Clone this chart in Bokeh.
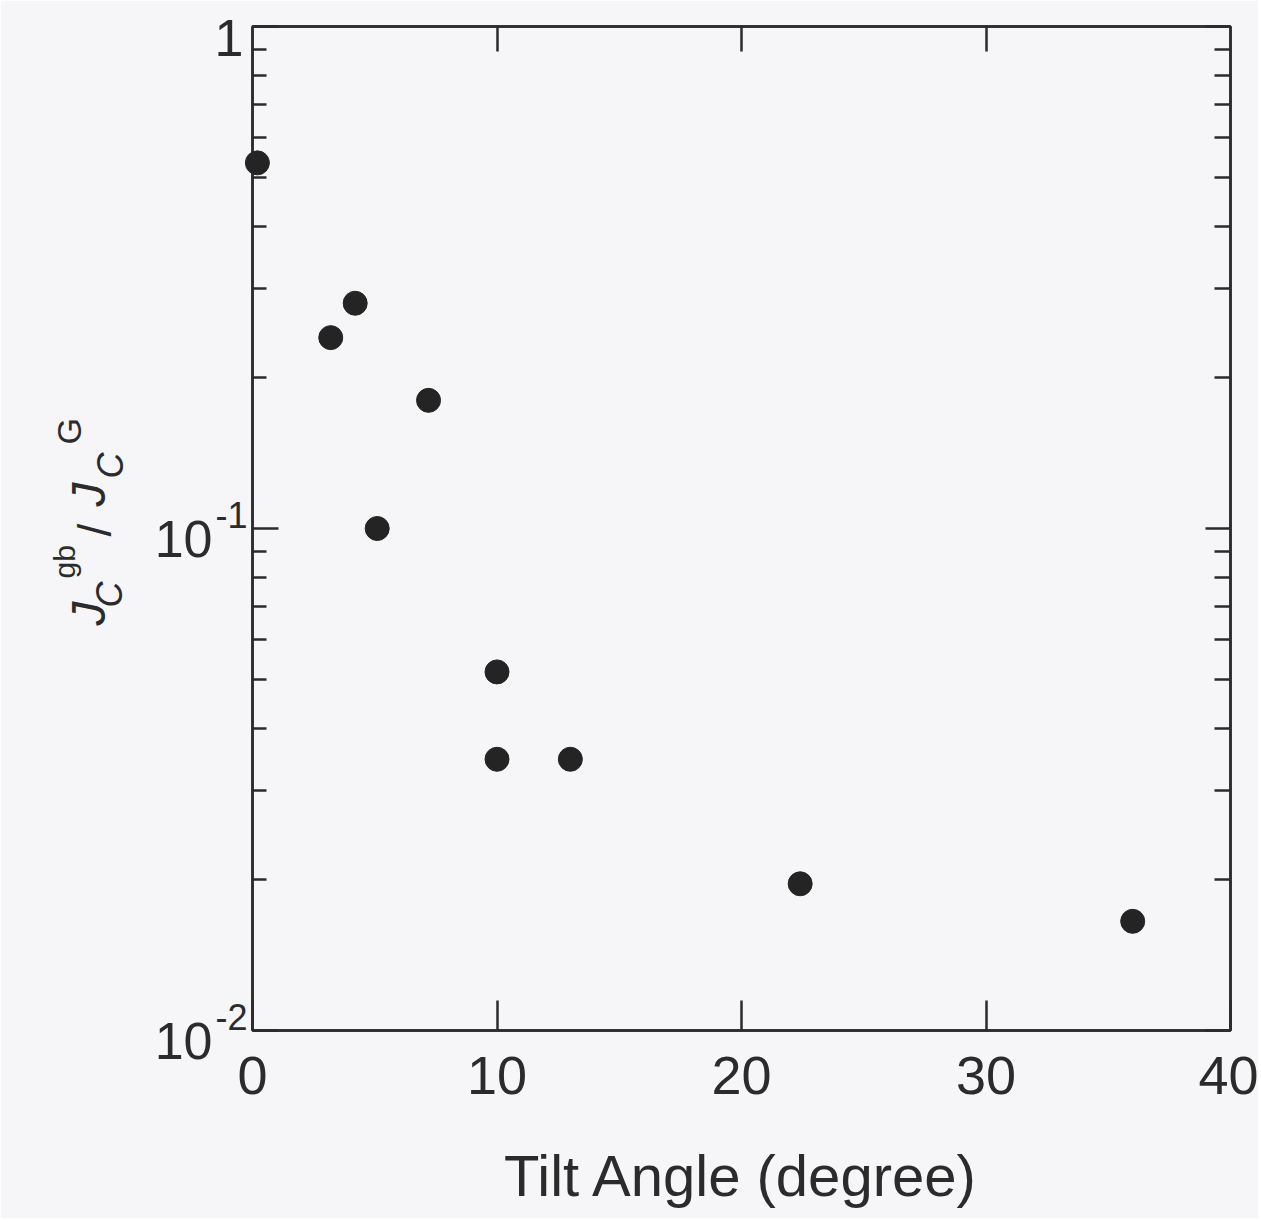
import math
from bokeh.plotting import figure
from bokeh.models import (LogAxis, LinearAxis, FixedTicker, Range1d,
                          LinearScale, CustomJSTickFormatter)
from bokeh.core.properties import value
from bokeh.embed import file_html
from bokeh.resources import INLINE

# ---- data ----
tilt_angle = [0.2, 3.2, 4.2, 5.1, 7.2, 10.0, 10.0, 13.0, 22.4, 36.0]
jc_ratio = [0.535, 0.240, 0.281, 0.100, 0.180, 0.0518, 0.0347, 0.0347, 0.0196, 0.0165]

x_ticks = [0, 10, 20, 30, 40]
y_tick_vals = [1, 0.1, 0.01]
y_tick_base = ["1", "10", "10"]
y_tick_exp = ["", "-1", "-2"]
y_minor = [k * d for d in (0.01, 0.1) for k in range(2, 10)]
x_title = "Tilt Angle (degree)"

FONT = "Liberation Sans"
INK = "#2b2b2b"
BG = "#f6f6f8"
LW = 2.5

# ---- geometry (page pixels) ----
LEFT, TOP, FW, FH, BOTTOM, RIGHT = 252, 26, 978, 1004, 188, 28
FRAME_BOTTOM = TOP + FH

p = figure(frame_width=FW, frame_height=FH, y_axis_type="log",
           x_range=Range1d(0, 40), y_range=Range1d(0.01, 1),
           output_backend="svg", toolbar_location=None, title_location=None,
           min_border_left=LEFT, min_border_right=RIGHT,
           min_border_top=TOP, min_border_bottom=BOTTOM,
           background_fill_color=BG, border_fill_color=BG)
p.grid.visible = False
p.outline_line_color = INK
p.outline_line_width = LW
p.extra_y_ranges = {"px": Range1d(0, FH)}
p.extra_y_scales = {"px": LinearScale()}

blank = CustomJSTickFormatter(code="return ''")

# bottom axis
xa = p.xaxis[0]
xa.ticker = FixedTicker(ticks=x_ticks, minor_ticks=[])
xa.major_tick_in = 30
xa.major_tick_out = 0
xa.minor_tick_in = 0
xa.minor_tick_out = 0
xa.axis_line_color = INK
xa.axis_line_width = LW
xa.major_tick_line_color = INK
xa.major_tick_line_width = LW
xa.major_label_text_font = FONT
xa.major_label_text_font_size = "54px"
xa.major_label_text_color = INK
xa.major_label_standoff = 26
xa.axis_label = x_title
xa.axis_label_text_font = FONT
xa.axis_label_text_font_size = "58px"
xa.axis_label_text_font_style = "normal"
xa.axis_label_text_color = INK
xa.axis_label_standoff = 46

# left axis (its labels are drawn as text below)
ya = p.yaxis[0]
ya.ticker = FixedTicker(ticks=y_tick_vals, minor_ticks=y_minor)
ya.formatter = blank
ya.major_label_text_font_size = "0px"
ya.major_label_standoff = 0
ya.major_tick_in = 26
ya.major_tick_out = 0
ya.minor_tick_in = 14
ya.minor_tick_out = 0
ya.axis_line_color = INK
ya.axis_line_width = LW
ya.major_tick_line_color = INK
ya.major_tick_line_width = LW
ya.minor_tick_line_color = INK
ya.minor_tick_line_width = LW

# right axis
ra = LogAxis(ticker=FixedTicker(ticks=y_tick_vals, minor_ticks=y_minor),
             formatter=blank,
             major_label_text_font_size="0px", major_label_standoff=0,
             major_tick_in=25, major_tick_out=0,
             minor_tick_in=16, minor_tick_out=0,
             axis_line_color=INK, axis_line_width=LW,
             major_tick_line_color=INK, major_tick_line_width=LW,
             minor_tick_line_color=INK, minor_tick_line_width=LW)
p.add_layout(ra, "right")

# top axis
ta = LinearAxis(ticker=FixedTicker(ticks=x_ticks[1:-1], minor_ticks=[]),
                formatter=blank, major_label_text_font_size="0px",
                major_label_standoff=0,
                major_tick_in=25, major_tick_out=0,
                minor_tick_in=0, minor_tick_out=0,
                axis_line_color=INK, axis_line_width=LW,
                major_tick_line_color=INK, major_tick_line_width=LW)
p.add_layout(ta, "above")

# data points (annotation level so the dot on the axis is not clipped)
p.scatter(tilt_angle, jc_ratio, size=24, color="#242424", level="annotation")

# y tick labels: text at the tick values, offset left of the axis
for v, base, ex in zip(y_tick_vals, y_tick_base, y_tick_exp):
    if ex == "":
        p.text(x=[0], y=[v], text=[base], x_offset=-9, y_offset=11,
               text_font=value(FONT), text_font_size=value("52px"),
               text_color=INK, text_align="right", text_baseline="middle",
               level="annotation")
    else:
        p.text(x=[0], y=[v], text=[base], x_offset=-40, y_offset=10,
               text_font=value(FONT), text_font_size=value("52px"),
               text_color=INK, text_align="right", text_baseline="middle",
               level="annotation")
        p.text(x=[0], y=[v], text=[ex], x_offset=-5, y_offset=-14,
               text_font=value(FONT), text_font_size=value("36px"),
               text_color=INK, text_align="right", text_baseline="middle",
               level="annotation")

# y axis title: J_C^gb / J_C^G (rotated); x = centre line, y = start (page px)
title_parts = [
    ("J", 88, 625, "48px", "italic"),
    ("C", 109, 607, "36px", "italic"),
    ("gb", 64, 578, "30px", "normal"),
    ("/", 94, 536, "46px", "normal"),
    ("J", 88, 506, "48px", "italic"),
    ("C", 110, 478, "36px", "italic"),
    ("G", 68, 444, "34px", "normal"),
]
for txt, px, py, fs, st in title_parts:
    p.text(x=[0], y=[FRAME_BOTTOM - py], text=[txt], x_offset=px - LEFT,
           y_range_name="px", angle=math.pi / 2, text_font=value(FONT),
           text_font_size=value(fs), text_font_style=st,
           text_color=INK, text_align="left", text_baseline="middle",
           level="annotation")

open("out.html", "w").write(file_html(p, INLINE))
